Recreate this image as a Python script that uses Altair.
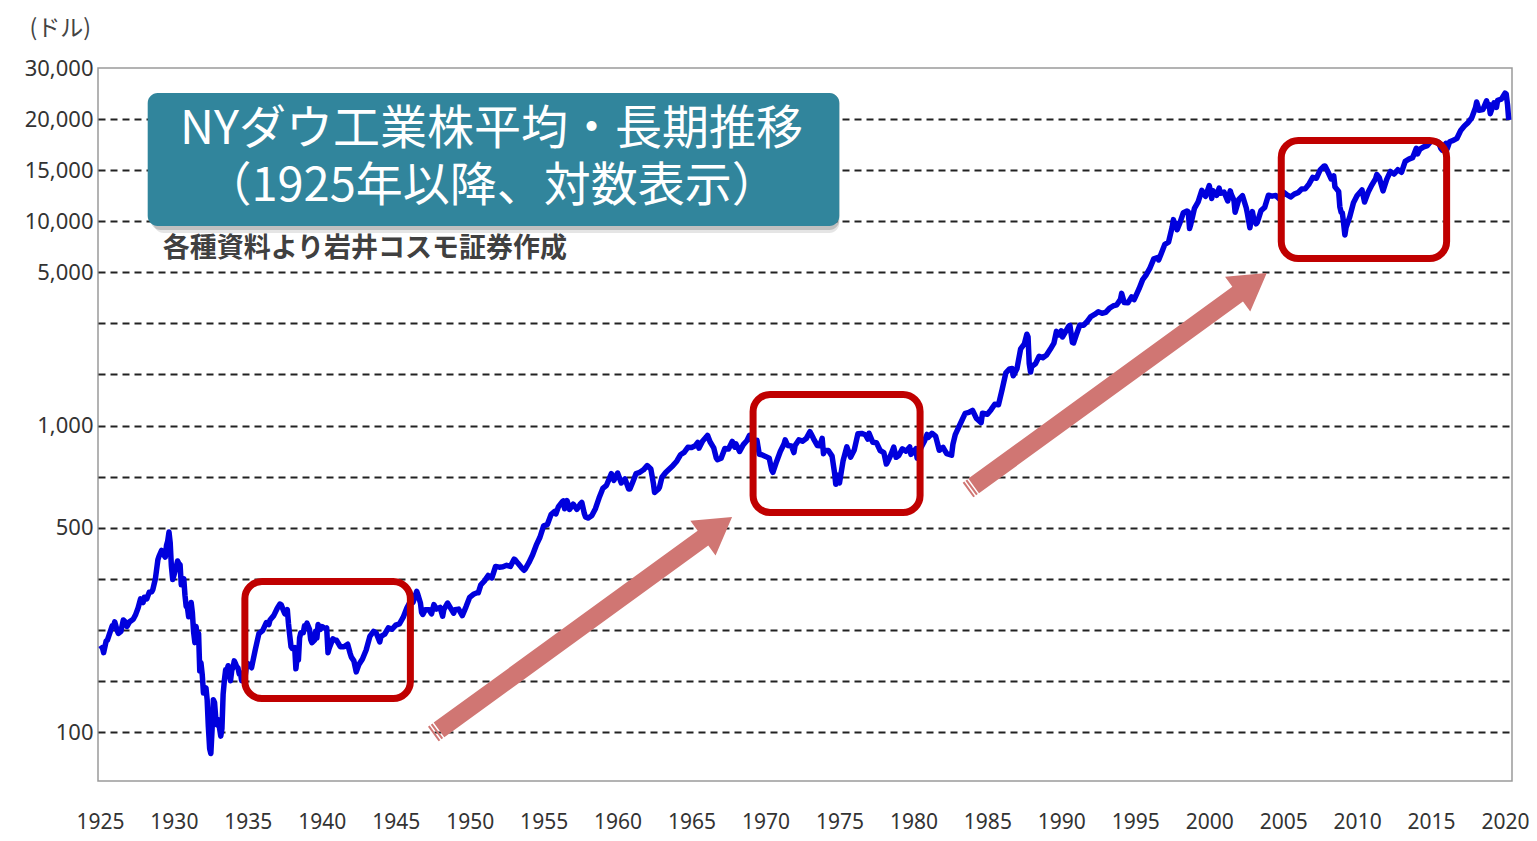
import altair as alt
import pandas as pd

# ---- data: NY Dow monthly-ish closes (year fraction, USD) ----
years = [
 1925.00,1925.17,1925.25,1925.42,1925.50,1925.67,1925.83,1925.92,
 1926.00,1926.17,1926.25,1926.42,1926.58,1926.75,1926.83,
 1927.00,1927.25,1927.42,1927.58,1927.75,1927.92,
 1928.00,1928.17,1928.33,1928.50,1928.58,1928.75,1928.92,
 1929.00,1929.17,1929.25,1929.42,1929.50,1929.58,1929.67,1929.75,1929.83,1929.92,
 1930.00,1930.17,1930.25,1930.33,1930.42,1930.50,1930.58,1930.67,1930.75,1930.83,1930.92,
 1931.00,1931.17,1931.25,1931.33,1931.42,1931.50,1931.58,1931.67,1931.75,1931.83,1931.92,
 1932.00,1932.17,1932.25,1932.33,1932.42,1932.50,1932.58,1932.67,1932.75,1932.83,1932.92,
 1933.00,1933.17,1933.25,1933.33,1933.42,1933.50,1933.58,1933.67,1933.75,1933.83,1933.92,
 1934.00,1934.08,1934.17,1934.25,1934.33,1934.42,1934.50,1934.58,1934.67,1934.75,1934.83,1934.92,
 1935.00,1935.25,1935.50,1935.75,
 1936.00,1936.25,1936.42,1936.50,1936.75,
 1937.00,1937.17,1937.25,1937.42,1937.50,1937.67,1937.75,1937.83,1937.92,
 1938.00,1938.17,1938.25,1938.33,1938.42,1938.50,1938.58,1938.75,1938.83,1938.92,
 1939.00,1939.17,1939.25,1939.33,1939.50,1939.58,1939.67,1939.75,1939.92,
 1940.00,1940.25,1940.33,1940.42,1940.50,1940.75,1940.92,
 1941.00,1941.25,1941.50,1941.75,1941.92,
 1942.00,1942.17,1942.33,1942.50,1942.75,
 1943.00,1943.25,1943.50,1943.67,1943.92,
 1944.00,1944.25,1944.50,1944.75,
 1945.00,1945.25,1945.50,1945.75,
 1946.00,1946.08,1946.17,1946.42,1946.50,1946.67,1946.75,1946.83,
 1947.00,1947.25,1947.42,1947.58,1947.75,
 1948.00,1948.17,1948.25,1948.50,1948.75,1948.92,
 1949.00,1949.25,1949.50,1949.75,
 1950.00,1950.25,1950.50,1950.58,1950.75,
 1951.00,1951.25,1951.50,1951.75,
 1952.00,1952.25,1952.50,1952.75,
 1953.00,1953.08,1953.25,1953.50,1953.67,1953.75,
 1954.00,1954.25,1954.50,1954.75,
 1955.00,1955.25,1955.50,1955.75,1955.83,
 1956.00,1956.25,1956.33,1956.42,1956.58,1956.75,
 1957.00,1957.25,1957.50,1957.58,1957.75,1957.83,
 1958.00,1958.25,1958.50,1958.75,
 1959.00,1959.25,1959.58,1959.75,
 1960.00,1960.25,1960.50,1960.75,1960.83,
 1961.00,1961.25,1961.50,1961.75,
 1962.00,1962.25,1962.42,1962.50,1962.75,1962.83,
 1963.00,1963.25,1963.50,1963.75,
 1964.00,1964.25,1964.50,1964.75,
 1965.00,1965.25,1965.42,1965.50,1965.75,
 1966.00,1966.08,1966.25,1966.50,1966.67,1966.75,
 1967.00,1967.25,1967.50,1967.75,1967.92,
 1968.00,1968.25,1968.50,1968.75,1968.92,
 1969.00,1969.25,1969.42,1969.58,1969.75,
 1970.00,1970.25,1970.42,1970.50,1970.75,
 1971.00,1971.25,1971.33,1971.50,1971.75,1971.92,
 1972.00,1972.25,1972.50,1972.75,
 1973.00,1973.08,1973.25,1973.50,1973.67,1973.83,1973.92,
 1974.00,1974.25,1974.50,1974.67,1974.75,1974.83,1974.92,
 1975.00,1975.25,1975.50,1975.75,
 1976.00,1976.25,1976.50,1976.75,1976.92,
 1977.00,1977.25,1977.50,1977.75,
 1978.00,1978.17,1978.25,1978.50,1978.67,1978.83,
 1979.00,1979.25,1979.50,1979.75,1979.83,
 1980.00,1980.17,1980.25,1980.50,1980.75,1980.92,
 1981.00,1981.25,1981.50,1981.75,
 1982.00,1982.25,1982.58,1982.67,1982.83,
 1983.00,1983.25,1983.50,1983.75,
 1984.00,1984.25,1984.58,1984.67,
 1985.00,1985.25,1985.50,1985.75,
 1986.00,1986.25,1986.50,1986.67,1986.75,
 1987.00,1987.25,1987.50,1987.67,1987.75,1987.83,1987.92,
 1988.00,1988.25,1988.50,1988.75,
 1989.00,1989.25,1989.50,1989.67,1989.83,
 1990.00,1990.08,1990.25,1990.50,1990.58,1990.75,1990.83,
 1991.00,1991.25,1991.50,1991.75,
 1992.00,1992.25,1992.50,1992.75,
 1993.00,1993.25,1993.50,1993.75,
 1994.00,1994.08,1994.25,1994.50,1994.75,1994.92,
 1995.00,1995.25,1995.50,1995.75,
 1996.00,1996.25,1996.50,1996.58,1996.75,
 1997.00,1997.25,1997.50,1997.58,1997.67,1997.75,1997.83,
 1998.00,1998.25,1998.50,1998.58,1998.67,1998.75,
 1999.00,1999.25,1999.50,1999.75,
 2000.00,2000.08,2000.17,2000.25,2000.50,2000.67,2000.75,
 2001.00,2001.25,2001.42,2001.50,2001.67,2001.75,
 2002.00,2002.25,2002.50,2002.58,2002.75,2002.92,
 2003.00,2003.17,2003.25,2003.50,2003.75,
 2004.00,2004.25,2004.50,2004.75,2004.83,
 2005.00,2005.25,2005.50,2005.75,
 2006.00,2006.25,2006.50,2006.75,
 2007.00,2007.25,2007.50,2007.75,2007.83,
 2008.00,2008.25,2008.42,2008.50,2008.75,2008.83,2008.92,
 2009.00,2009.08,2009.17,2009.25,2009.50,2009.75,
 2010.00,2010.25,2010.33,2010.50,2010.75,
 2011.00,2011.25,2011.33,2011.50,2011.75,
 2012.00,2012.25,2012.50,2012.75,
 2013.00,2013.25,2013.50,2013.75,
 2014.00,2014.08,2014.25,2014.50,2014.75,
 2015.00,2015.25,2015.50,2015.67,2015.75,
 2016.00,2016.08,2016.25,2016.50,2016.75,
 2017.00,2017.25,2017.50,2017.75,
 2018.00,2018.08,2018.25,2018.50,2018.75,2018.83,2018.92,
 2019.00,2019.25,2019.42,2019.50,2019.75,
 2020.00,2020.08,2020.17,2020.25,
]
dow = [
 120,122,116,130,131,141,151,150,
 157,144,140,143,160,156,150,
 157,161,169,180,197,190,
 200,197,210,211,216,240,290,
 300,317,308,297,333,347,380,343,273,238,
 248,272,286,279,275,226,234,240,204,183,180,
 165,190,172,143,128,150,136,140,97,105,93,
 78,82,73,56,45,43,54,73,71,61,57,
 60,51,55,77,89,98,97,102,94,88,98,
 100,107,104,101,100,94,95,88,93,90,93,103,
 104,100,119,140,
 144,156,153,160,167,
 180,187,186,175,170,177,154,138,123,
 121,122,99,111,108,134,141,141,151,150,
 155,146,132,128,131,143,134,153,146,
 150,147,148,116,121,133,131,
 131,123,123,126,115,
 111,107,96,103,109,
 119,136,143,141,129,
 136,139,148,146,
 152,154,164,180,
 193,204,190,212,205,189,172,169,
 177,177,170,186,178,
 181,166,177,189,178,171,
 177,178,167,182,
 200,206,209,209,226,
 235,248,242,271,
 269,270,274,271,
 291,289,280,268,261,264,
 281,303,334,361,
 404,409,451,466,454,
 488,511,516,478,518,475,
 500,475,503,509,456,441,
 436,446,478,532,
 584,602,675,632,
 679,616,641,580,580,
 616,676,684,701,
 731,706,613,561,579,590,
 652,683,707,732,
 763,813,832,875,
 874,889,918,868,931,
 969,984,924,870,788,775,
 786,865,860,927,876,
 905,840,898,936,985,
 944,936,938,816,813,
 800,786,700,684,761,
 839,904,941,891,887,831,
 890,941,929,953,
 1020,999,951,891,888,956,822,
 851,847,802,679,608,666,619,
 616,769,879,794,
 852,1000,1003,990,948,
 1004,919,916,848,
 831,742,757,819,877,793,
 805,862,842,878,816,
 839,863,786,868,932,993,
 964,1004,977,850,
 875,822,809,901,992,
 1047,1130,1222,1233,
 1259,1165,1115,1224,
 1212,1267,1336,1329,
 1547,1819,1893,1898,1768,
 1896,2305,2419,2663,2596,1994,1834,
 1939,1989,2142,2113,
 2169,2294,2440,2737,2645,
 2753,2591,2707,2881,2905,2453,2442,
 2634,2914,2907,3017,
 3169,3236,3319,3272,
 3301,3436,3516,3555,
 3754,3978,3636,3625,3843,3739,
 3834,4158,4556,4789,
 5117,5588,5655,5529,5882,
 6448,6584,7673,8223,7622,7945,7442,
 7908,8800,8952,8883,7539,7843,
 9181,9786,10971,10337,
 11497,10941,10128,10922,10448,11215,10651,
 10787,9879,10912,10502,9950,8848,
 10022,10404,9243,8737,7592,8896,
 8342,7891,7992,8985,9275,
 10454,10358,10435,10080,10027,
 10783,10504,10275,10569,
 10718,11109,11150,11679,
 12463,12354,13409,13896,13930,
 13265,12263,12638,11350,10851,9325,8829,
 8776,8001,7063,7609,8447,9712,
 10428,10857,11009,9774,10788,
 11578,12320,12811,12414,10913,
 12218,13212,12880,13437,
 13104,14579,14910,15130,
 16577,15699,16458,16827,17043,
 17823,17776,17620,16528,16285,
 17425,16466,17685,17930,18308,
 19763,20663,21350,22405,
 24719,26149,24103,24271,26458,25116,25538,
 23327,25929,24815,26600,26917,
 28538,28256,25409,21917,
]

# y-axis gridline positions (data units on the log scale) and their printed labels
grid_values = [53.12, 87.82, 145.2, 240.0, 396.8, 655.8, 1084, 1792, 2962, 4897, 8094, 13381, 22118, 36556]
grid_labels = ["100", "", "", "", "500", "", "1,000", "", "", "5,000", "10,000", "15,000", "20,000", "30,000"]
x_ticks = list(range(1925, 2021, 5))

# annotation boxes (red rounded frames), in data units
box_x0 = [1934.80, 1969.16, 2004.87]
box_x1 = [1945.99, 1980.45, 2016.05]
box_y0 = [73.9, 460.6, 5609]
box_y1 = [233.7, 1471, 17916]

# trend arrows: centre points in data units
arrow_x = [1957.64, 1993.79]
arrow_y = [151.5, 1672]

# title panel (two-line title drawn as one text block; y = first line)
title_box = {"t": [1928.23], "t2": [1974.99], "v": [7723], "v2": [28590]}
title_text = ["NYダウ工業株平均・長期推移\n（1925年以降、対数表示）"]
title_x = [1951.48]
title_y = [19871]
source_text = ["各種資料より岩井コスモ証券作成"]
source_x = [1929.24]
source_y = [6160]

# ---- build chart ----
df = pd.DataFrame({"t": years, "v": dow})
xs = alt.Scale(domain=[1924.87, 2020.47], nice=False, zero=False)
ys = alt.Scale(type="log", domain=[32.8, 36556], nice=False)

label_expr = "''"
for val, lab in reversed(list(zip(grid_values, grid_labels))):
    label_expr = f"abs(datum.value - {val}) < 0.05 ? '{lab}' : ({label_expr})"

x_axis = alt.Axis(values=x_ticks, format="d", title=None, grid=False, ticks=False, domain=False,
                  labelFont="Noto Sans", labelFontSize=21, labelColor="#333333",
                  labelPadding=30, labelFlush=False, labelOverlap=False)
y_axis = alt.Axis(values=grid_values, labelExpr=label_expr, ticks=False, domain=False,
                  labelFont="Noto Sans", labelFontSize=22, labelColor="#333333",
                  labelPadding=5, labelOverlap=False, labelFlush=False,
                  grid=True, gridColor="#222222", gridDash=[7, 5], gridWidth=2,
                  gridOpacity={"condition": {"test": "datum.value > 30000", "value": 0}, "value": 1},
                  title="(ドル)", titleAngle=0, titleX=-69, titleY=-40, titleAlign="left",
                  titleBaseline="middle", titleFont="Noto Sans CJK JP", titleFontSize=23,
                  titleFontWeight="normal", titleColor="#444444")

X = alt.X("t:Q", scale=xs, axis=x_axis)
Y = alt.Y("v:Q", scale=ys, axis=y_axis)

line = alt.Chart(df).mark_line(color="#0000DD", strokeWidth=5.5, strokeJoin="round").encode(x=X, y=Y)

boxes_df = pd.DataFrame({"t": box_x0, "t2": box_x1, "v": box_y0, "v2": box_y1})
boxes = alt.Chart(boxes_df).mark_rect(fillOpacity=0, stroke="#C00000", strokeWidth=7, cornerRadius=17).encode(
    x=X, x2="t2:Q", y=Y, y2="v2:Q",
)

arrow_path = ("M-1,-0.049 L-0.989,-0.049 L-0.989,0.049 L-1,0.049 Z "
              "M-0.981,-0.049 L-0.970,-0.049 L-0.970,0.049 L-0.981,0.049 Z "
              "M-0.962,-0.049 L0.805,-0.049 L0.805,-0.116 L1,0 L0.805,0.116 L0.805,0.049 L-0.962,0.049 Z")
arrows_df = pd.DataFrame({"t": arrow_x, "v": arrow_y})
arrows = alt.Chart(arrows_df).mark_point(shape=arrow_path, size=136400, angle=324, filled=True,
                                         color="#D07673", opacity=1, strokeWidth=0).encode(x=X, y=Y)

tb_df = pd.DataFrame(title_box)
shadow1 = alt.Chart(tb_df).mark_rect(cornerRadius=10, color="#000000", opacity=0.10, xOffset=6, yOffset=7).encode(
    x=X, x2="t2:Q", y=Y, y2="v2:Q")
shadow2 = alt.Chart(tb_df).mark_rect(cornerRadius=10, color="#000000", opacity=0.16, xOffset=3, yOffset=4).encode(
    x=X, x2="t2:Q", y=Y, y2="v2:Q")
tbox = alt.Chart(tb_df).mark_rect(cornerRadius=10, color="#31859C", opacity=1).encode(
    x=X, x2="t2:Q", y=Y, y2="v2:Q")

tt_df = pd.DataFrame({"t": title_x, "v": title_y, "text": title_text})
ttext = alt.Chart(tt_df).mark_text(font="Noto Sans CJK JP", fontSize=47, color="white", lineBreak="\n",
                                   lineHeight=57, align="center", baseline="middle").encode(x=X, y=Y, text="text:N")

src_df = pd.DataFrame({"t": source_x, "v": source_y, "text": source_text})
src = alt.Chart(src_df).mark_text(font="Noto Sans CJK JP", fontSize=27, fontWeight="bold", color="#404040",
                                  align="left", baseline="middle").encode(x=X, y=Y, text="text:N")

chart = alt.layer(line, boxes, arrows, shadow1, shadow2, tbox, ttext, src).properties(
    width=1414, height=713,
    autosize=alt.AutoSizeParams(type="none"),
    padding={"left": 90, "top": 60, "right": 17, "bottom": 55},
    background="white",
).configure_view(stroke="#9A9A9A", strokeWidth=1.5)

chart.save("out.html", embed_options={"renderer": "svg", "actions": False})
